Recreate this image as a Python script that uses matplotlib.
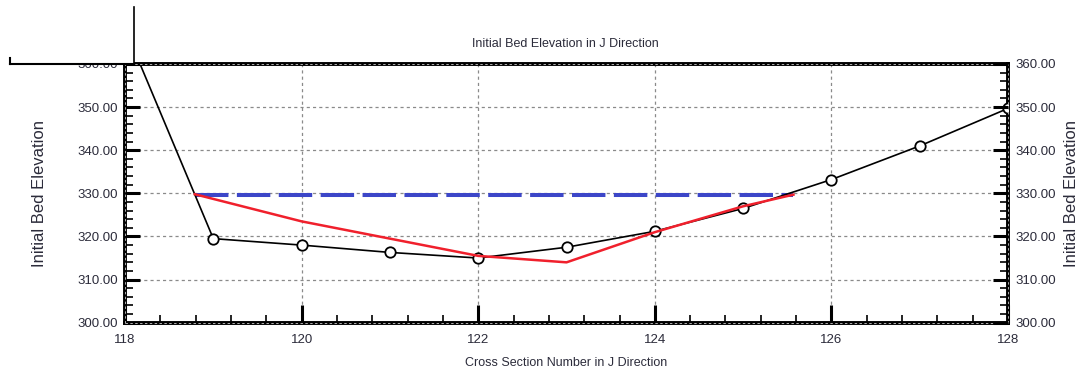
import numpy as np
import matplotlib.pyplot as plt
from matplotlib.patches import Rectangle
from matplotlib.lines import Line2D
from matplotlib.ticker import MultipleLocator

plt.rcParams['font.family'] = ['Liberation Sans', 'DejaVu Sans']

# bed elevation along the J direction
sections = [118, 119, 120, 121, 122, 123, 124, 125, 126, 127, 128]
bed = [368.3, 319.5, 318.0, 316.3, 315.0, 317.5, 321.2, 326.5, 333.2, 341.0, 349.7]

# red profile
red_x = [118.79, 120, 122, 123, 124, 125, 125.57]
red_y = [329.8, 323.5, 315.5, 314.0, 321.0, 327.0, 329.7]

# blue dashed level
water_x = [118.79, 125.57]
water_y = [329.7, 329.7]

text_col = '#2b2b3a'

fig = plt.figure(figsize=(10.88, 3.72), dpi=100)
ax = fig.add_axes([0.1149, 0.1325, 0.8116, 0.6955])

ax.plot(water_x, water_y, color='#3c46c8', lw=2.9, dashes=(8.3, 2.1), zorder=3)
ax.plot(sections, bed, color='black', lw=1.2, marker='o', ms=7.5,
        mfc='white', mec='black', mew=1.3, zorder=4)
ax.plot(red_x, red_y, color='#f0202c', lw=1.8, zorder=5)

ax.set_xlim(118, 128)
ax.set_ylim(300, 360)
ax.xaxis.set_major_locator(MultipleLocator(2))
ax.xaxis.set_minor_locator(MultipleLocator(0.4))
ax.yaxis.set_major_locator(MultipleLocator(10))
ax.yaxis.set_minor_locator(MultipleLocator(2))
ax.grid(True, which='major', color='#8a8a8a', lw=0.9, linestyle=(0, (2.5, 2.5)))

ax.tick_params(which='both', direction='in', colors='black', labelcolor=text_col,
               labelsize=9.5, top=False, right=True)
ax.tick_params(axis='x', which='major', length=13, width=2.2, pad=8)
ax.tick_params(axis='x', which='minor', length=5.5, width=1.2)
ax.tick_params(axis='y', which='major', length=11, width=2.2, pad=5)
ax.tick_params(axis='y', which='minor', length=5.5, width=1.2)
ax.set_xticks([118, 120, 122, 124, 126, 128])
ax.set_yticks(np.arange(300, 361, 10))
ax.set_yticklabels([f'{v:.2f}' for v in np.arange(300, 361, 10)])
for s in ax.spines.values():
    s.set_linewidth(2.8)

# light dashes running along the frame
for xs, ys in [([0, 1], [0, 0]), ([0, 1], [1, 1]), ([0, 0], [0, 1]), ([1, 1], [0, 1])]:
    ax.plot(xs, ys, transform=ax.transAxes, color='#b0b0b0', lw=0.7,
            linestyle=(0, (2.5, 2.5)), clip_on=False, zorder=6)

ax2 = ax.twinx()
ax2.set_ylim(300, 360)
ax2.yaxis.set_major_locator(MultipleLocator(10))
ax2.yaxis.set_minor_locator(MultipleLocator(2))
ax2.set_yticks(np.arange(300, 361, 10))
ax2.set_yticklabels([f'{v:.2f}' for v in np.arange(300, 361, 10)])
ax2.tick_params(which='both', direction='in', labelcolor=text_col, labelsize=9.5, pad=5)
ax2.tick_params(which='major', length=11, width=2.2)
ax2.tick_params(which='minor', length=5.5, width=1.2)
for s in ax2.spines.values():
    s.set_visible(False)

ax.set_ylabel('Initial Bed Elevation', fontsize=12, color=text_col, labelpad=22)
ax2.set_ylabel('Initial Bed Elevation', fontsize=12, color=text_col, labelpad=6)
ax.set_xlabel('Cross Section Number in J Direction', fontsize=9, color=text_col, labelpad=8)
fig.text(0.52, 0.882, 'Initial Bed Elevation in J Direction', fontsize=9,
         color=text_col, ha='center', va='center')

# stray box overlapping the top-left corner
fig.add_artist(Rectangle((10 / 1088, 1 - 64 / 372), 124 / 1088, 56 / 372,
                         transform=fig.transFigure, facecolor='white',
                         edgecolor='none', zorder=10))
fig.add_artist(Line2D([134 / 1088, 134 / 1088], [1 - 64 / 372, 1 - 7 / 372],
                      transform=fig.transFigure, color='black', lw=1.2, zorder=11))
fig.add_artist(Line2D([10 / 1088, 134 / 1088], [1 - 64 / 372, 1 - 64 / 372],
                      transform=fig.transFigure, color='black', lw=1.5, zorder=11))
fig.add_artist(Line2D([10 / 1088, 10 / 1088], [1 - 64 / 372, 1 - 58 / 372],
                      transform=fig.transFigure, color='black', lw=1.5, zorder=11))

fig.savefig('out.png', dpi=100)
